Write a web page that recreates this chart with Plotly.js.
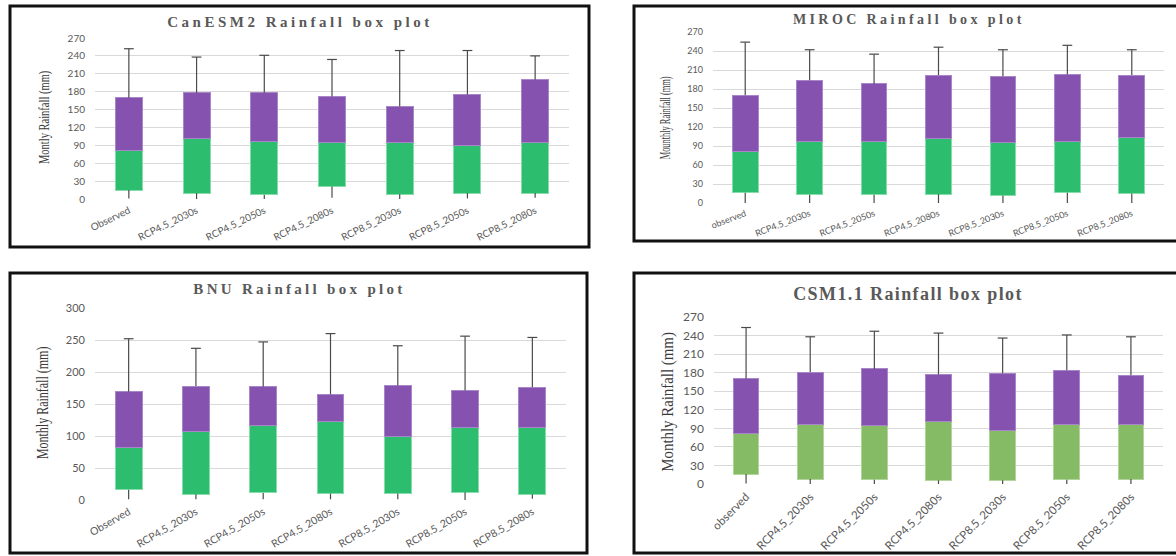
<!DOCTYPE html>
<html>
<head>
<meta charset="utf-8">
<script src="https://cdn.plot.ly/plotly-3.0.1.min.js"></script>
<style>
html,body{margin:0;padding:0;background:#fff;}
#chart{width:1176px;height:556px;}
.annotation[data-index="0"] .annotation-text{letter-spacing:3.5px;}
.annotation[data-index="1"] .annotation-text{letter-spacing:3.4px;}
.annotation[data-index="2"] .annotation-text{letter-spacing:3.3px;}
.annotation[data-index="3"] .annotation-text{letter-spacing:1.4px;}
.annotation[data-index="4"] .annotation-text{transform-box:fill-box;transform-origin:center;transform:scaleX(0.70);}
.annotation[data-index="5"] .annotation-text{transform-box:fill-box;transform-origin:center;transform:scaleX(0.56);}
.annotation[data-index="6"] .annotation-text{transform-box:fill-box;transform-origin:center;transform:scaleX(0.75);}
.annotation[data-index="7"] .annotation-text{transform-box:fill-box;transform-origin:center;transform:scaleX(0.93);}
</style>
</head>
<body>
<div id="chart"></div>
<script>
// ---------- data ----------
const catsCanESM2 = ['Observed','RCP4.5_2030s','RCP4.5_2050s','RCP4.5_2080s','RCP8.5_2030s','RCP8.5_2050s','RCP8.5_2080s'];
const catsMIROC   = ['observed','RCP4.5_2030s','RCP4.5_2050s','RCP4.5_2080s','RCP8.5_2030s','RCP8.5_2050s','RCP8.5_2080s'];
const catsBNU     = ['Observed','RCP4.5_2030s','RCP4.5_2050s','RCP4.5_2080s','RCP8.5_2030s','RCP8.5_2050s','RCP8.5_2080s'];
const catsCSM     = ['observed','RCP4.5_2030s','RCP4.5_2050s','RCP4.5_2080s','RCP8.5_2030s','RCP8.5_2050s','RCP8.5_2080s'];

const canMin = [1, 0, 0, 2, 0, 1, 2];
const canQ1  = [15, 10, 7, 21, 8, 10, 10];
const canMed = [82, 101, 96, 94, 94, 89, 94];
const canQ3  = [170, 178, 178, 172, 155, 175, 200];
const canMax = [252, 238, 241, 234, 249, 249, 240];

const mirMin = [0, 0, 0, 0, 0, 0, 0];
const mirQ1  = [16, 13, 13, 14, 12, 16, 15];
const mirMed = [81, 97, 97, 102, 96, 97, 103];
const mirQ3  = [170, 194, 188, 202, 200, 203, 202];
const mirMax = [254, 242, 235, 246, 242, 249, 242];

const bnuMin = [1, 1, 1, 1, 1, 0, 2];
const bnuQ1  = [16, 9, 11, 10, 10, 12, 9];
const bnuMed = [82, 107, 116, 122, 99, 113, 113];
const bnuQ3  = [169, 178, 177, 165, 179, 171, 176];
const bnuMax = [252, 237, 247, 260, 241, 256, 254];

const csmMin = [1, 0, 0, 0, 0, 0, 0];
const csmQ1  = [16, 8, 7, 6, 6, 7, 8];
const csmMed = [82, 97, 95, 101, 87, 97, 97];
const csmQ3  = [170, 181, 186, 177, 179, 184, 176];
const csmMax = [253, 238, 247, 244, 236, 241, 238];

const titles = ['CanESM2 Rainfall box plot','MIROC Rainfall box plot','BNU Rainfall box plot','CSM1.1 Rainfall box plot'];
const yTitles = ['Montly Rainfall (mm)','Mounthly Rainfall (mm)','Monthly Rainfall (mm)','Monthly Rainfall (mm)'];

// ---------- helpers ----------
const W = 1176, H = 556;
const fx = p => p / W;
const fy = p => 1 - p / H;
const PURPLE = '#8652B0', PURPLE_LINE = '#a887c8';
const GREEN = '#2CBE6E', GREEN_LINE = '#86dcaa';
const OLIVE = '#85BB65', OLIVE_LINE = '#b2d59c';
const WHISK = '#4a4a4a';

function panelTraces(cats, mn, q1, med, q3, mx, xa, ya, green, greenLine) {
  const lowSeg = med.map((m, i) => m - q1[i]);
  const upSeg = q3.map((v, i) => v - med[i]);
  const wx = [], wy = [];
  cats.forEach((c, i) => { wx.push(c, c, null, c, c, null); wy.push(q3[i], mx[i], null, mn[i], q1[i], null); });
  return [
    {type:'bar', x:cats, y:q1, xaxis:xa, yaxis:ya, marker:{color:'rgba(0,0,0,0)'}, hoverinfo:'skip'},
    {type:'bar', x:cats, y:lowSeg, xaxis:xa, yaxis:ya, marker:{color:green, line:{color:greenLine, width:1}}},
    {type:'bar', x:cats, y:upSeg, xaxis:xa, yaxis:ya, marker:{color:PURPLE, line:{color:PURPLE_LINE, width:1}}},
    {type:'scatter', mode:'lines', x:wx, y:wy, xaxis:xa, yaxis:ya, line:{color:WHISK, width:1.2}, connectgaps:false, hoverinfo:'skip'},
    {type:'scatter', mode:'markers', x:cats, y:mx, xaxis:xa, yaxis:ya, marker:{symbol:'line-ew-open', size:7, color:WHISK, line:{color:WHISK, width:1.2}}, hoverinfo:'skip'}
  ];
}

const data = [].concat(
  panelTraces(catsCanESM2, canMin, canQ1, canMed, canQ3, canMax, 'x', 'y', GREEN, GREEN_LINE),
  panelTraces(catsMIROC, mirMin, mirQ1, mirMed, mirQ3, mirMax, 'x2', 'y2', GREEN, GREEN_LINE),
  panelTraces(catsBNU, bnuMin, bnuQ1, bnuMed, bnuQ3, bnuMax, 'x3', 'y3', GREEN, GREEN_LINE),
  panelTraces(catsCSM, csmMin, csmQ1, csmMed, csmQ3, csmMax, 'x4', 'y4', OLIVE, OLIVE_LINE)
);

function xAxis(px0, px1, anchor, angle, size) {
  return {domain:[fx(px0), fx(px1)], anchor:anchor, type:'category', tickangle:angle,
    tickfont:{family:'Lato, Liberation Sans, sans-serif', size:size, color:'#595959'},
    showgrid:false, zeroline:false, showline:false, ticks:'', ticklabelstandoff:3, fixedrange:true};
}
function yAxis(py0, py1, anchor, rmax, dt, size) {
  return {domain:[fy(py1), fy(py0)], anchor:anchor, range:[0, rmax], dtick:dt, tick0:0,
    gridcolor:'#d9d9d9', gridwidth:1, zeroline:false, showline:false, ticks:'',
    tickfont:{family:'Lato, Liberation Sans, sans-serif', size:size, color:'#595959'},
    ticklabelstandoff:9, fixedrange:true};
}

const titleFont = s => ({family:'Liberation Serif, serif', size:s, color:'#595959', weight:'bold'});
const yFont = s => ({family:'Liberation Serif, serif', size:s, color:'#3a3a3a'});
const ann = (text, x, y, font, angle) => ({text:text, xref:'paper', yref:'paper', x:fx(x), y:fy(y),
  xanchor:'center', yanchor:'middle', showarrow:false, font:font, textangle:angle || 0});

const border = (x0, y0, x1, y1) => ({type:'rect', xref:'paper', yref:'paper', x0:fx(x0), x1:fx(x1), y0:fy(y1), y1:fy(y0),
  line:{color:'#111', width:3}, fillcolor:'rgba(0,0,0,0)', layer:'above'});

const layout = {
  width:W, height:H, margin:{l:0, r:0, t:0, b:0},
  paper_bgcolor:'#ffffff', plot_bgcolor:'rgba(0,0,0,0)',
  barmode:'stack', bargap:0.6, showlegend:false,
  xaxis:  xAxis(95, 569, 'y', -26, 10),
  yaxis:  yAxis(38, 199, 'x', 270, 30, 10),
  xaxis2: xAxis(713, 1164, 'y2', -21, 9),
  yaxis2: yAxis(32, 203, 'x2', 270, 30, 9),
  xaxis3: xAxis(95, 566, 'y3', -30, 10.5),
  yaxis3: yAxis(308, 500, 'x3', 300, 50, 11),
  xaxis4: xAxis(714, 1163, 'y4', -45, 11.5),
  yaxis4: yAxis(317, 484, 'x4', 270, 30, 12),
  annotations:[
    ann(titles[0], 300, 22, titleFont(15)),
    ann(titles[1], 909, 19, titleFont(14)),
    ann(titles[2], 299, 289, titleFont(15)),
    ann(titles[3], 908, 294, titleFont(18)),
    ann(yTitles[0], 44, 118, yFont(15), -90),
    ann(yTitles[1], 665, 118, yFont(15), -90),
    ann(yTitles[2], 43, 403, yFont(16), -90),
    ann(yTitles[3], 668, 402, yFont(16), -90)
  ],
  shapes:[
    border(10, 6, 589, 247),
    border(634, 6, 1182, 241),
    border(10, 273, 587, 553),
    border(634, 273, 1182, 553)
  ]
};

Plotly.newPlot('chart', data, layout, {staticPlot:true, displayModeBar:false});
</script>
</body>
</html>
